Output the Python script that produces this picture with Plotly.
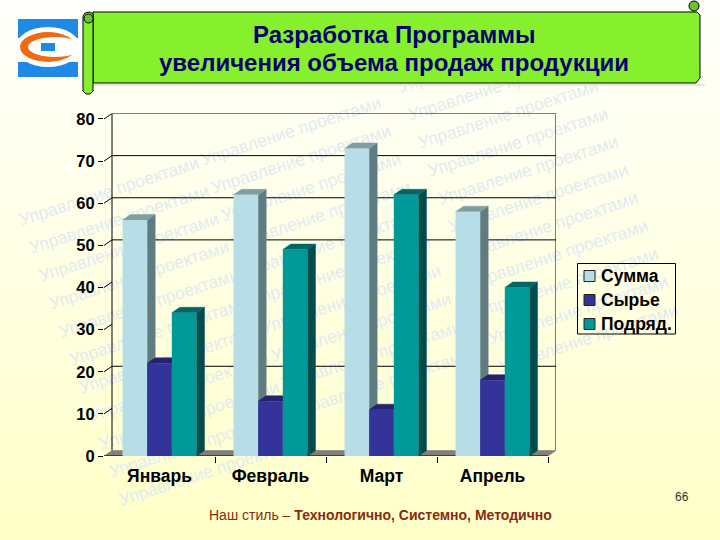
import base64, struct, zlib, math
import plotly.graph_objects as go

# ---- data ----
months = ["Январь", "Февраль", "Март", "Апрель"]
summa = [56, 62, 73, 58]
syrye = [22, 13, 11, 18]
podryad = [34, 49, 62, 40]
series_names = ["Сумма", "Сырье", "Подряд."]
y_ticks = [0, 10, 20, 30, 40, 50, 60, 70, 80]
grid_values = [20, 50, 60, 70, 80]
title_lines = ["Разработка Программы", "увеличения объема продаж продукции"]
watermark = "Управление проектами"

W, H = 720, 540
def px(x): return x / W
def py(y): return 1 - y / H

# 3D look
DX = 8 / 111.0   # depth in category units
DY = 1.3         # depth in value units
BW = 0.222
styles = [("#B7DDE6", "#607C80", "#7E9EA2"),
          ("#333399", "#1B1B5E", "#232370"),
          ("#009999", "#004C4C", "#006666")]

fig = go.Figure()
XL, XR = -0.5, 3.5
xs = list(range(len(months)))

# back wall + gridlines
gx, gy = [], []
for v in y_ticks[1:]:
    gx += [XL, XL + DX, None]
    gy += [v, v + DY, None]
for v in grid_values:
    gx += [XL + DX, XR + DX, None]
    gy += [v + DY, v + DY, None]
gx += [XL + DX, XL + DX, None, XR + DX, XR + DX, None]
gy += [DY, 80 + DY, None, DY, 80 + DY, None]
fig.add_trace(go.Scatter(x=gx, y=gy, mode="lines", line=dict(color="black", width=1),
                         showlegend=False, hoverinfo="skip", zorder=0))
# floor
fig.add_trace(go.Scatter(x=[XL, XL + DX, XR + DX, XR, XL], y=[0, DY, DY, 0, 0], mode="lines",
                         fill="toself", fillcolor="#808080", line=dict(color="#707070", width=0.5),
                         showlegend=False, hoverinfo="skip", zorder=0))
fig.add_trace(go.Scatter(x=[XL, XR], y=[0, 0], mode="lines", line=dict(color="black", width=1),
                         showlegend=False, hoverinfo="skip", zorder=0))

for i, (name, vals) in enumerate(zip(series_names, [summa, syrye, podryad])):
    front, side, top = styles[i]
    off = -1.5 * BW + i * BW
    sx, sy, tx, ty = [], [], [], []
    for c, v in zip(xs, vals):
        x0, x1 = c + off, c + off + BW
        sx += [x1, x1 + DX, x1 + DX, x1, x1, None]
        sy += [0, DY, v + DY, v, 0, None]
        tx += [x0, x1, x1 + DX, x0 + DX, x0, None]
        ty += [v, v, v + DY, v + DY, v, None]
    z = 2 * i + 1
    fig.add_trace(go.Scatter(x=sx, y=sy, mode="lines", fill="toself", fillcolor=side,
                             line=dict(color=side, width=0.5), showlegend=False,
                             hoverinfo="skip", zorder=z))
    fig.add_trace(go.Scatter(x=tx, y=ty, mode="lines", fill="toself", fillcolor=top,
                             line=dict(color=top, width=0.5), showlegend=False,
                             hoverinfo="skip", zorder=z))
    fig.add_trace(go.Bar(x=xs, y=vals, name=name, width=BW, offset=off,
                         marker=dict(color=front, line=dict(width=0)),
                         showlegend=False, zorder=z + 1))

# background gradient image
def gradient_png():
    n = 135
    raw = b""
    for r in range(n):
        t = r / (n - 1)
        raw += b"\x00" + bytes((255, 255, int(252 - 52 * t ** 1.1)))
    def chunk(tag, d):
        return struct.pack(">I", len(d)) + tag + d + struct.pack(">I", zlib.crc32(tag + d) & 0xffffffff)
    png = b"\x89PNG\r\n\x1a\n" + chunk(b"IHDR", struct.pack(">IIBBBBB", 1, n, 8, 2, 0, 0, 0)) \
        + chunk(b"IDAT", zlib.compress(raw)) + chunk(b"IEND", b"")
    return "data:image/png;base64," + base64.b64encode(png).decode()

annotations = []
# watermark
ANG = 18
L = 181
FONT = "Liberation Sans"
ca, sa = math.cos(math.radians(ANG)), math.sin(math.radians(ANG))
clusters = [(23, 225, 11), (205, 165, 10), (402, 92, 11)]
for sx0, sy0, n in clusters:
    for k in range(n):
        x0, y0 = sx0 + 10 * k, sy0 + 28 * k
        annotations.append(dict(x=px(x0 + L / 2 * ca), y=py(y0 - L / 2 * sa - 6), xref="paper", yref="paper",
                                text=watermark, showarrow=False, textangle=-ANG,
                                xanchor="center", yanchor="middle",
                                font=dict(family=FONT, size=17.5, color="#E2EBF0")))

def label(x, y, text, size, color="black", anchor="center"):
    annotations.append(dict(x=px(x), y=py(y), xref="paper", yref="paper", text=text, showarrow=False,
                            xanchor=anchor, yanchor="middle", font=dict(family=FONT, size=size, color=color)))

label(394, 35, "<b>" + title_lines[0] + "</b>", 24, "#00006E")
label(394, 62, "<b>" + title_lines[1] + "</b>", 24, "#00006E")
for name, yy in zip(series_names, [276, 300, 324]):
    label(599, yy, "<b>" + name + "</b>", 17.5, anchor="left")
label(682, 497, "66", 12, "#333333")
label(207, 515, "Наш стиль – <b>Технологично, Системно, Методично</b>", 14, "#8A2A10", anchor="left")

# shapes, in pixel coordinates converted to paper
def path(points, close=True):
    s = ""
    for i, (x, y) in enumerate(points):
        s += ("M" if i == 0 else "L") + f"{px(x):.5f},{py(y):.5f} "
    return s + ("Z" if close else "")

def rect(x0, y0, x1, y1, fill, line=None, w=1):
    return dict(type="rect", xref="paper", yref="paper", x0=px(x0), x1=px(x1), y0=py(y1), y1=py(y0),
                fillcolor=fill, line=dict(color=line or fill, width=w if line else 0))

def ell(x0, y0, x1, y1, fill, line=None):
    return dict(type="circle", xref="paper", yref="paper", x0=px(x0), x1=px(x1), y0=py(y1), y1=py(y0),
                fillcolor=fill, line=dict(color=line or fill, width=1 if line else 0))

def poly(points, fill, line="black", w=1):
    return dict(type="path", xref="paper", yref="paper", path=path(points), fillcolor=fill,
                line=dict(color=line, width=w))

GREEN = "#86F02C"
shapes = [
    # title scroll
    poly([(705, 86), (88, 86), (88, 84), (705, 84)], "#E8E8D8", "#E8E8D8", 0),
    poly([(93, 12), (697, 12), (700, 15), (700, 78), (696, 83), (93, 83)], GREEN),
    poly([(83, 16), (85, 13), (90, 12), (93, 14), (93, 91), (90, 94), (86, 94), (83, 91)], GREEN),
    ell(84, 14, 93, 23, "#6BC428", "black"),
    ell(689, 1, 699, 11, "#6BC428", "black"),
    # logo
    rect(18, 19, 78, 38, "#1E8AE6"),
    rect(18, 62, 78, 77, "#1E8AE6"),
    ell(16, 27, 80, 67, "#FFFFFF"),
    ell(20, 32, 76, 62, "#F06A14"),
    ell(28, 37, 82, 57, "#FFFFFF"),
    rect(70, 42, 80, 49, "#FFFFFF"),
    rect(41, 43, 55, 51, "#1E8AE6"),
    # legend box
    rect(577.5, 263.5, 675.5, 334, "rgba(0,0,0,0)", "black"),
]
for (front, _, _), yy in zip(styles, [276, 300, 324]):
    shapes.append(rect(584, yy - 5.5, 595, yy + 5.5, front, "#222222"))

fig.update_layout(
    width=W, height=H, margin=dict(l=0, r=0, t=0, b=0, pad=0, autoexpand=False), autosize=False,
    paper_bgcolor="rgba(0,0,0,0)", plot_bgcolor="rgba(0,0,0,0)",
    barmode="overlay", showlegend=False, hovermode=False,
    images=[dict(source=gradient_png(), xref="paper", yref="paper", x=0, y=1, sizex=1, sizey=1,
                 sizing="stretch", layer="below", xanchor="left", yanchor="top")],
    annotations=annotations, shapes=shapes,
    xaxis=dict(domain=[px(104), px(556)], range=[XL, XR + DX], showgrid=False, zeroline=False,
               showline=False, automargin=False, tickmode="array", tickvals=xs, ticktext=months,
               ticks="", ticklen=0, ticklabelstandoff=7,
               minor=dict(tickmode="array", tickvals=[0.5, 1.5, 2.5, 3.5], ticks="outside",
                          ticklen=6, tickwidth=1, tickcolor="black", showgrid=False),
               tickfont=dict(family=FONT, size=17.5, color="black", weight="bold")),
    yaxis=dict(domain=[py(456), py(113.5)], range=[0, 80 + DY], showgrid=False, zeroline=False,
               showline=False, automargin=False, tickmode="array", tickvals=y_ticks, ticks="outside",
               ticklen=5, tickwidth=1, tickcolor="black", ticklabelstandoff=0,
               tickfont=dict(family=FONT, size=16.5, color="black", weight="bold")),
)

post = """
document.body.style.margin='0';document.body.style.overflow='hidden';
(function(){
 var gd=document.getElementById('{plot_id}');
 function mv(){
  var below=gd.querySelector('.main-svg .layer-below');
  if(!below)return;
  gd.querySelectorAll('.annotation').forEach(function(a){
    if(a.textContent==='Управление проектами'&&!below.contains(a)){below.appendChild(a);}
  });
 }
 mv();setTimeout(mv,0);setTimeout(mv,100);
 if(gd.on)gd.on('plotly_afterplot',mv);
})();
"""
fig.write_html("out.html", post_script=post, config={"displayModeBar": False})
